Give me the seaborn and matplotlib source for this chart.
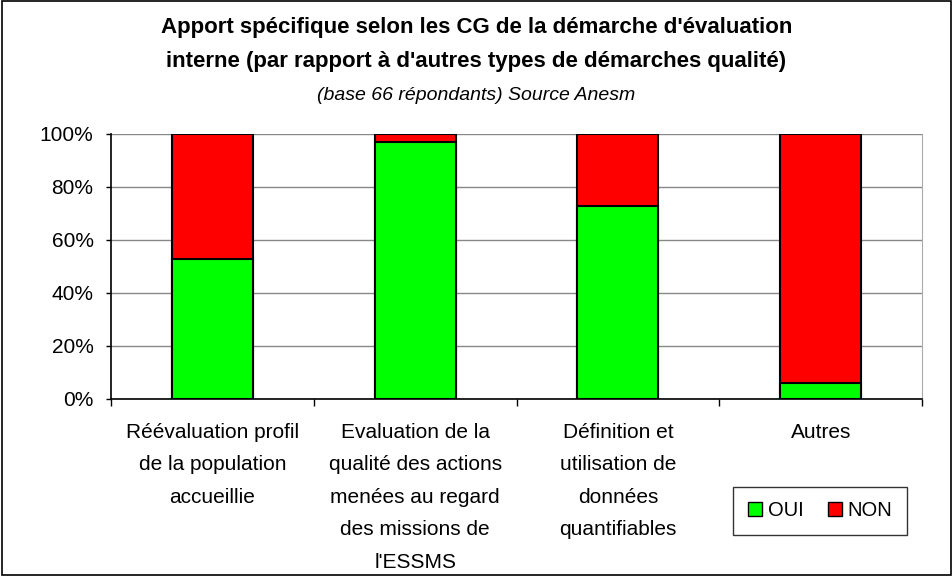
import numpy as np
import pandas as pd
import seaborn as sns
import matplotlib.pyplot as plt
from matplotlib.patches import Patch

categories = ["Réévaluation profil\nde la population\naccueillie",
              "Evaluation de la\nqualité des actions\nmenées au regard\ndes missions de\nl'ESSMS",
              "Définition et\nutilisation de\ndonnées\nquantifiables",
              "Autres"]
oui = [53, 97, 73, 6]
non = [47, 3, 27, 94]

df = pd.DataFrame({"cat": categories, "oui": oui,
                   "total": np.array(oui) + np.array(non)})

sns.set_style("white")
plt.rcParams['font.family'] = ['Liberation Sans', 'DejaVu Sans']
plt.rcParams['text.color'] = 'black'
plt.rcParams['xtick.color'] = 'black'
plt.rcParams['ytick.color'] = 'black'

fig = plt.figure(figsize=(9.53, 5.76), dpi=100)
ax = fig.add_axes([0.1165, 0.3073, 0.851, 0.4601])

sns.barplot(data=df, x="cat", y="total", color="#ff0000", width=0.4,
            edgecolor="black", linewidth=1.5, saturation=1, ax=ax)
sns.barplot(data=df, x="cat", y="oui", color="#00ff00", width=0.4,
            edgecolor="black", linewidth=1.5, saturation=1, ax=ax)

ax.set_ylim(0, 100)
ax.set_xlim(-0.5, 3.5)
ax.set_yticks(range(0, 101, 20))
ax.set_yticklabels([f"{v}%" for v in range(0, 101, 20)], fontsize=15)
ax.yaxis.grid(True, color="#888888", linewidth=1)
ax.set_axisbelow(True)
ax.set_xlabel("")
ax.set_ylabel("")
ax.tick_params(axis="x", length=0, labelsize=15, pad=17)
ax.tick_params(axis="y", length=3.6, width=1, direction="out", left=True, pad=9)
ax.set_xticks(np.arange(-0.5, 4, 1), minor=True)
ax.tick_params(axis="x", which="minor", length=5, width=1, bottom=True, direction="out")
for lab in ax.get_xticklabels():
    lab.set_verticalalignment("top")
    lab.set_linespacing(1.9)

for side in ["left", "bottom"]:
    ax.spines[side].set_color("black")
    ax.spines[side].set_linewidth(1.2)
ax.spines["top"].set_visible(False)
ax.spines["right"].set_color("#aaaaaa")

fig.text(0.5, 1 - 28 / 576, "Apport spécifique selon les CG de la démarche d'évaluation",
         ha="center", va="center", fontsize=16, fontweight="bold")
fig.text(0.5, 1 - 61 / 576, "interne (par rapport à d'autres types de démarches qualité)",
         ha="center", va="center", fontsize=16, fontweight="bold")
fig.text(0.5, 1 - 95 / 576, "(base 66 répondants) Source Anesm", ha="center", va="center",
         fontsize=14, style="italic")

handles = [Patch(facecolor="#00ff00", edgecolor="black", label="OUI"),
           Patch(facecolor="#ff0000", edgecolor="black", label="NON")]
fig.legend(handles=handles, loc="center", bbox_to_anchor=(0.8605, 0.113), ncol=2,
           frameon=True, fancybox=False, edgecolor="black", fontsize=14.5,
           handlelength=0.7, handleheight=0.7, handletextpad=0.3, columnspacing=1.2,
           borderpad=0.7)

fig.patches.append(plt.Rectangle((0.002, 0.002), 0.996, 0.996, transform=fig.transFigure,
                                 fill=False, edgecolor="black", linewidth=1.2))

fig.savefig("out.png", dpi=100)
